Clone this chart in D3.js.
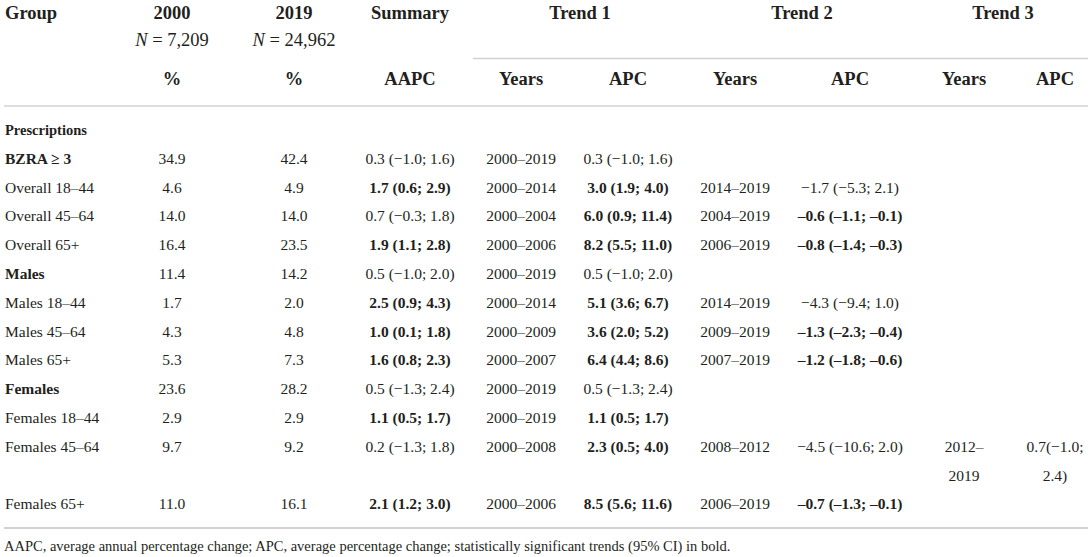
<!DOCTYPE html>
<html>
<head>
<meta charset="utf-8">
<script src="https://cdn.jsdelivr.net/npm/d3@7"></script>
<style>
  body { margin: 0; background: #fff; }
  svg text { font-family: "Liberation Serif", "DejaVu Serif", serif; fill: #231f20; }
</style>
</head>
<body>
<div id="table"></div>
<script>
// table content
var groups = ["BZRA \u2265 3", "Overall 18\u201344", "Overall 45\u201364", "Overall 65+", "Males", "Males 18\u201344",
  "Males 45\u201364", "Males 65+", "Females", "Females 18\u201344", "Females 45\u201364", "Females 65+"];
var boldGroups = ["BZRA \u2265 3", "Males", "Females"];
var pct2000 = [34.9, 4.6, 14.0, 16.4, 11.4, 1.7, 4.3, 5.3, 23.6, 2.9, 9.7, 11.0];
var pct2019 = [42.4, 4.9, 14.0, 23.5, 14.2, 2.0, 4.8, 7.3, 28.2, 2.9, 9.2, 16.1];
var aapc = ["0.3 (\u22121.0; 1.6)", "1.7 (0.6; 2.9)", "0.7 (\u22120.3; 1.8)", "1.9 (1.1; 2.8)", "0.5 (\u22121.0; 2.0)",
  "2.5 (0.9; 4.3)", "1.0 (0.1; 1.8)", "1.6 (0.8; 2.3)", "0.5 (\u22121.3; 2.4)", "1.1 (0.5; 1.7)",
  "0.2 (\u22121.3; 1.8)", "2.1 (1.2; 3.0)"];
var aapcSig = [0, 1, 0, 1, 0, 1, 1, 1, 0, 1, 0, 1];
var t1Years = ["2000\u20132019", "2000\u20132014", "2000\u20132004", "2000\u20132006", "2000\u20132019", "2000\u20132014",
  "2000\u20132009", "2000\u20132007", "2000\u20132019", "2000\u20132019", "2000\u20132008", "2000\u20132006"];
var t1Apc = ["0.3 (\u22121.0; 1.6)", "3.0 (1.9; 4.0)", "6.0 (0.9; 11.4)", "8.2 (5.5; 11.0)", "0.5 (\u22121.0; 2.0)",
  "5.1 (3.6; 6.7)", "3.6 (2.0; 5.2)", "6.4 (4.4; 8.6)", "0.5 (\u22121.3; 2.4)", "1.1 (0.5; 1.7)",
  "2.3 (0.5; 4.0)", "8.5 (5.6; 11.6)"];
var t1Sig = [0, 1, 1, 1, 0, 1, 1, 1, 0, 1, 1, 1];
var t2Years = ["", "2014\u20132019", "2004\u20132019", "2006\u20132019", "", "2014\u20132019", "2009\u20132019",
  "2007\u20132019", "", "", "2008\u20132012", "2006\u20132019"];
var t2Apc = ["", "\u22121.7 (\u22125.3; 2.1)", "\u20130.6 (\u20131.1; \u20130.1)", "\u20130.8 (\u20131.4; \u20130.3)", "",
  "\u22124.3 (\u22129.4; 1.0)", "\u20131.3 (\u20132.3; \u20130.4)", "\u20131.2 (\u20131.8; \u20130.6)", "", "",
  "\u22124.5 (\u221210.6; 2.0)", "\u20130.7 (\u20131.3; \u20130.1)"];
var t2Sig = [0, 0, 1, 1, 0, 0, 1, 1, 0, 0, 0, 1];
var t3Years = ["", "", "", "", "", "", "", "", "", "", "2012\u2013\n2019", ""];
var t3Apc = ["", "", "", "", "", "", "", "", "", "", "0.7(\u22121.0;\n2.4)", ""];
var t3Sig = [0, 0, 0, 0, 0, 0, 0, 0, 0, 0, 0, 0];

var colKeys = ["p2000", "p2019", "aapc", "t1y", "t1a", "t2y", "t2a", "t3y", "t3a"];
var subHeads = ["%", "%", "AAPC", "Years", "APC", "Years", "APC", "Years", "APC"];
var topHeads = [["2000", "p2000"], ["2019", "p2019"], ["Summary", "aapc"]];
var trendHeads = ["Trend 1", "Trend 2", "Trend 3"];
var nHeads = [["N", " = 7,209", "p2000"], ["N", " = 24,962", "p2019"]];
var footnote = "AAPC, average annual percentage change; APC, average percentage change; statistically significant trends (95% CI) in bold.";

var W = 1091, H = 557;
var x = d3.scaleOrdinal().domain(colKeys).range([172, 294, 410, 521, 628, 735, 850, 964, 1055]);
var trendX = d3.scaleOrdinal().domain(trendHeads).range([580, 802, 1003]);
// y by line slot (slot 0 = "Prescriptions")
var y = d3.scaleLinear().domain([0, 1]).range([129.5, 158.3]);

var svg = d3.select("#table").append("svg")
  .attr("width", W).attr("height", H)
  .attr("xmlns", "http://www.w3.org/2000/svg");

var rule = "#d2d2d2";
svg.append("line").attr("x1", 473).attr("x2", 1088).attr("y1", 58.5).attr("y2", 58.5)
  .attr("stroke", rule).attr("stroke-width", 1.6);
svg.append("line").attr("x1", 4).attr("x2", 1088).attr("y1", 106).attr("y2", 106)
  .attr("stroke", rule).attr("stroke-width", 1.6);

// header
var hs = 18.5;
svg.append("text").attr("x", 5).attr("y", 13).attr("dominant-baseline", "central")
  .attr("font-size", hs).attr("font-weight", "bold").text("Group");
svg.selectAll(".top").data(topHeads).enter().append("text")
  .attr("x", function(d) { return x(d[1]); }).attr("y", 13)
  .attr("text-anchor", "middle").attr("dominant-baseline", "central")
  .attr("font-size", hs).attr("font-weight", "bold").text(function(d) { return d[0]; });
svg.selectAll(".trend").data(trendHeads).enter().append("text")
  .attr("x", function(d) { return trendX(d); }).attr("y", 13)
  .attr("text-anchor", "middle").attr("dominant-baseline", "central")
  .attr("font-size", hs).attr("font-weight", "bold").text(function(d) { return d; });
var nt = svg.selectAll(".n").data(nHeads).enter().append("text")
  .attr("x", function(d) { return x(d[2]); }).attr("y", 40)
  .attr("text-anchor", "middle").attr("dominant-baseline", "central").attr("font-size", hs);
nt.append("tspan").attr("font-style", "italic").text(function(d) { return d[0]; });
nt.append("tspan").text(function(d) { return d[1]; });
svg.selectAll(".sub").data(subHeads).enter().append("text")
  .attr("x", function(d, i) { return x(colKeys[i]); }).attr("y", 79)
  .attr("text-anchor", "middle").attr("dominant-baseline", "central")
  .attr("font-size", hs).attr("font-weight", "bold").text(function(d) { return d; });

// body rows
var fs = 15.5;
svg.append("text").attr("x", 5).attr("y", y(0)).attr("dominant-baseline", "central")
  .attr("font-size", 14.5).attr("font-weight", "bold").text("Prescriptions");

var cols = [
  [function(i) { return pct2000[i].toFixed(1); }, function() { return 0; }],
  [function(i) { return pct2019[i].toFixed(1); }, function() { return 0; }],
  [function(i) { return aapc[i]; }, function(i) { return aapcSig[i]; }],
  [function(i) { return t1Years[i]; }, function() { return 0; }],
  [function(i) { return t1Apc[i]; }, function(i) { return t1Sig[i]; }],
  [function(i) { return t2Years[i]; }, function() { return 0; }],
  [function(i) { return t2Apc[i]; }, function(i) { return t2Sig[i]; }],
  [function(i) { return t3Years[i]; }, function() { return 0; }],
  [function(i) { return t3Apc[i]; }, function(i) { return t3Sig[i]; }]
];

var rows = [];
var slot = 1;
groups.forEach(function(g, i) {
  var lines = 1;
  cols.forEach(function(c) { lines = Math.max(lines, c[0](i).split("\n").length); });
  rows.push({ name: g, i: i, slot: slot });
  slot += lines;
});

var rowG = svg.selectAll(".row").data(rows).enter().append("g").attr("class", "row");
rowG.append("text").attr("x", 5).attr("y", function(d) { return y(d.slot); })
  .attr("dominant-baseline", "central").attr("font-size", fs)
  .attr("font-weight", function(d) { return boldGroups.indexOf(d.name) >= 0 ? "bold" : null; })
  .text(function(d) { return d.name; });

rowG.each(function(r) {
  var g = d3.select(this);
  cols.forEach(function(c, ci) {
    var parts = c[0](r.i).split("\n");
    g.selectAll(null).data(parts.filter(function(p) { return p; })).enter().append("text")
      .attr("x", x(colKeys[ci]))
      .attr("y", function(p, k) { return y(r.slot + k); })
      .attr("text-anchor", "middle").attr("dominant-baseline", "central")
      .attr("font-size", fs)
      .attr("font-weight", c[1](r.i) ? "bold" : null)
      .text(function(p) { return p; });
  });
});

var bottom = 528;
svg.append("line").attr("x1", 4).attr("x2", 1088).attr("y1", bottom).attr("y2", bottom)
  .attr("stroke", rule).attr("stroke-width", 2);
svg.append("text").attr("x", 4).attr("y", 546).attr("dominant-baseline", "central")
  .attr("font-size", 14.5).text(footnote);
</script>
</body>
</html>
